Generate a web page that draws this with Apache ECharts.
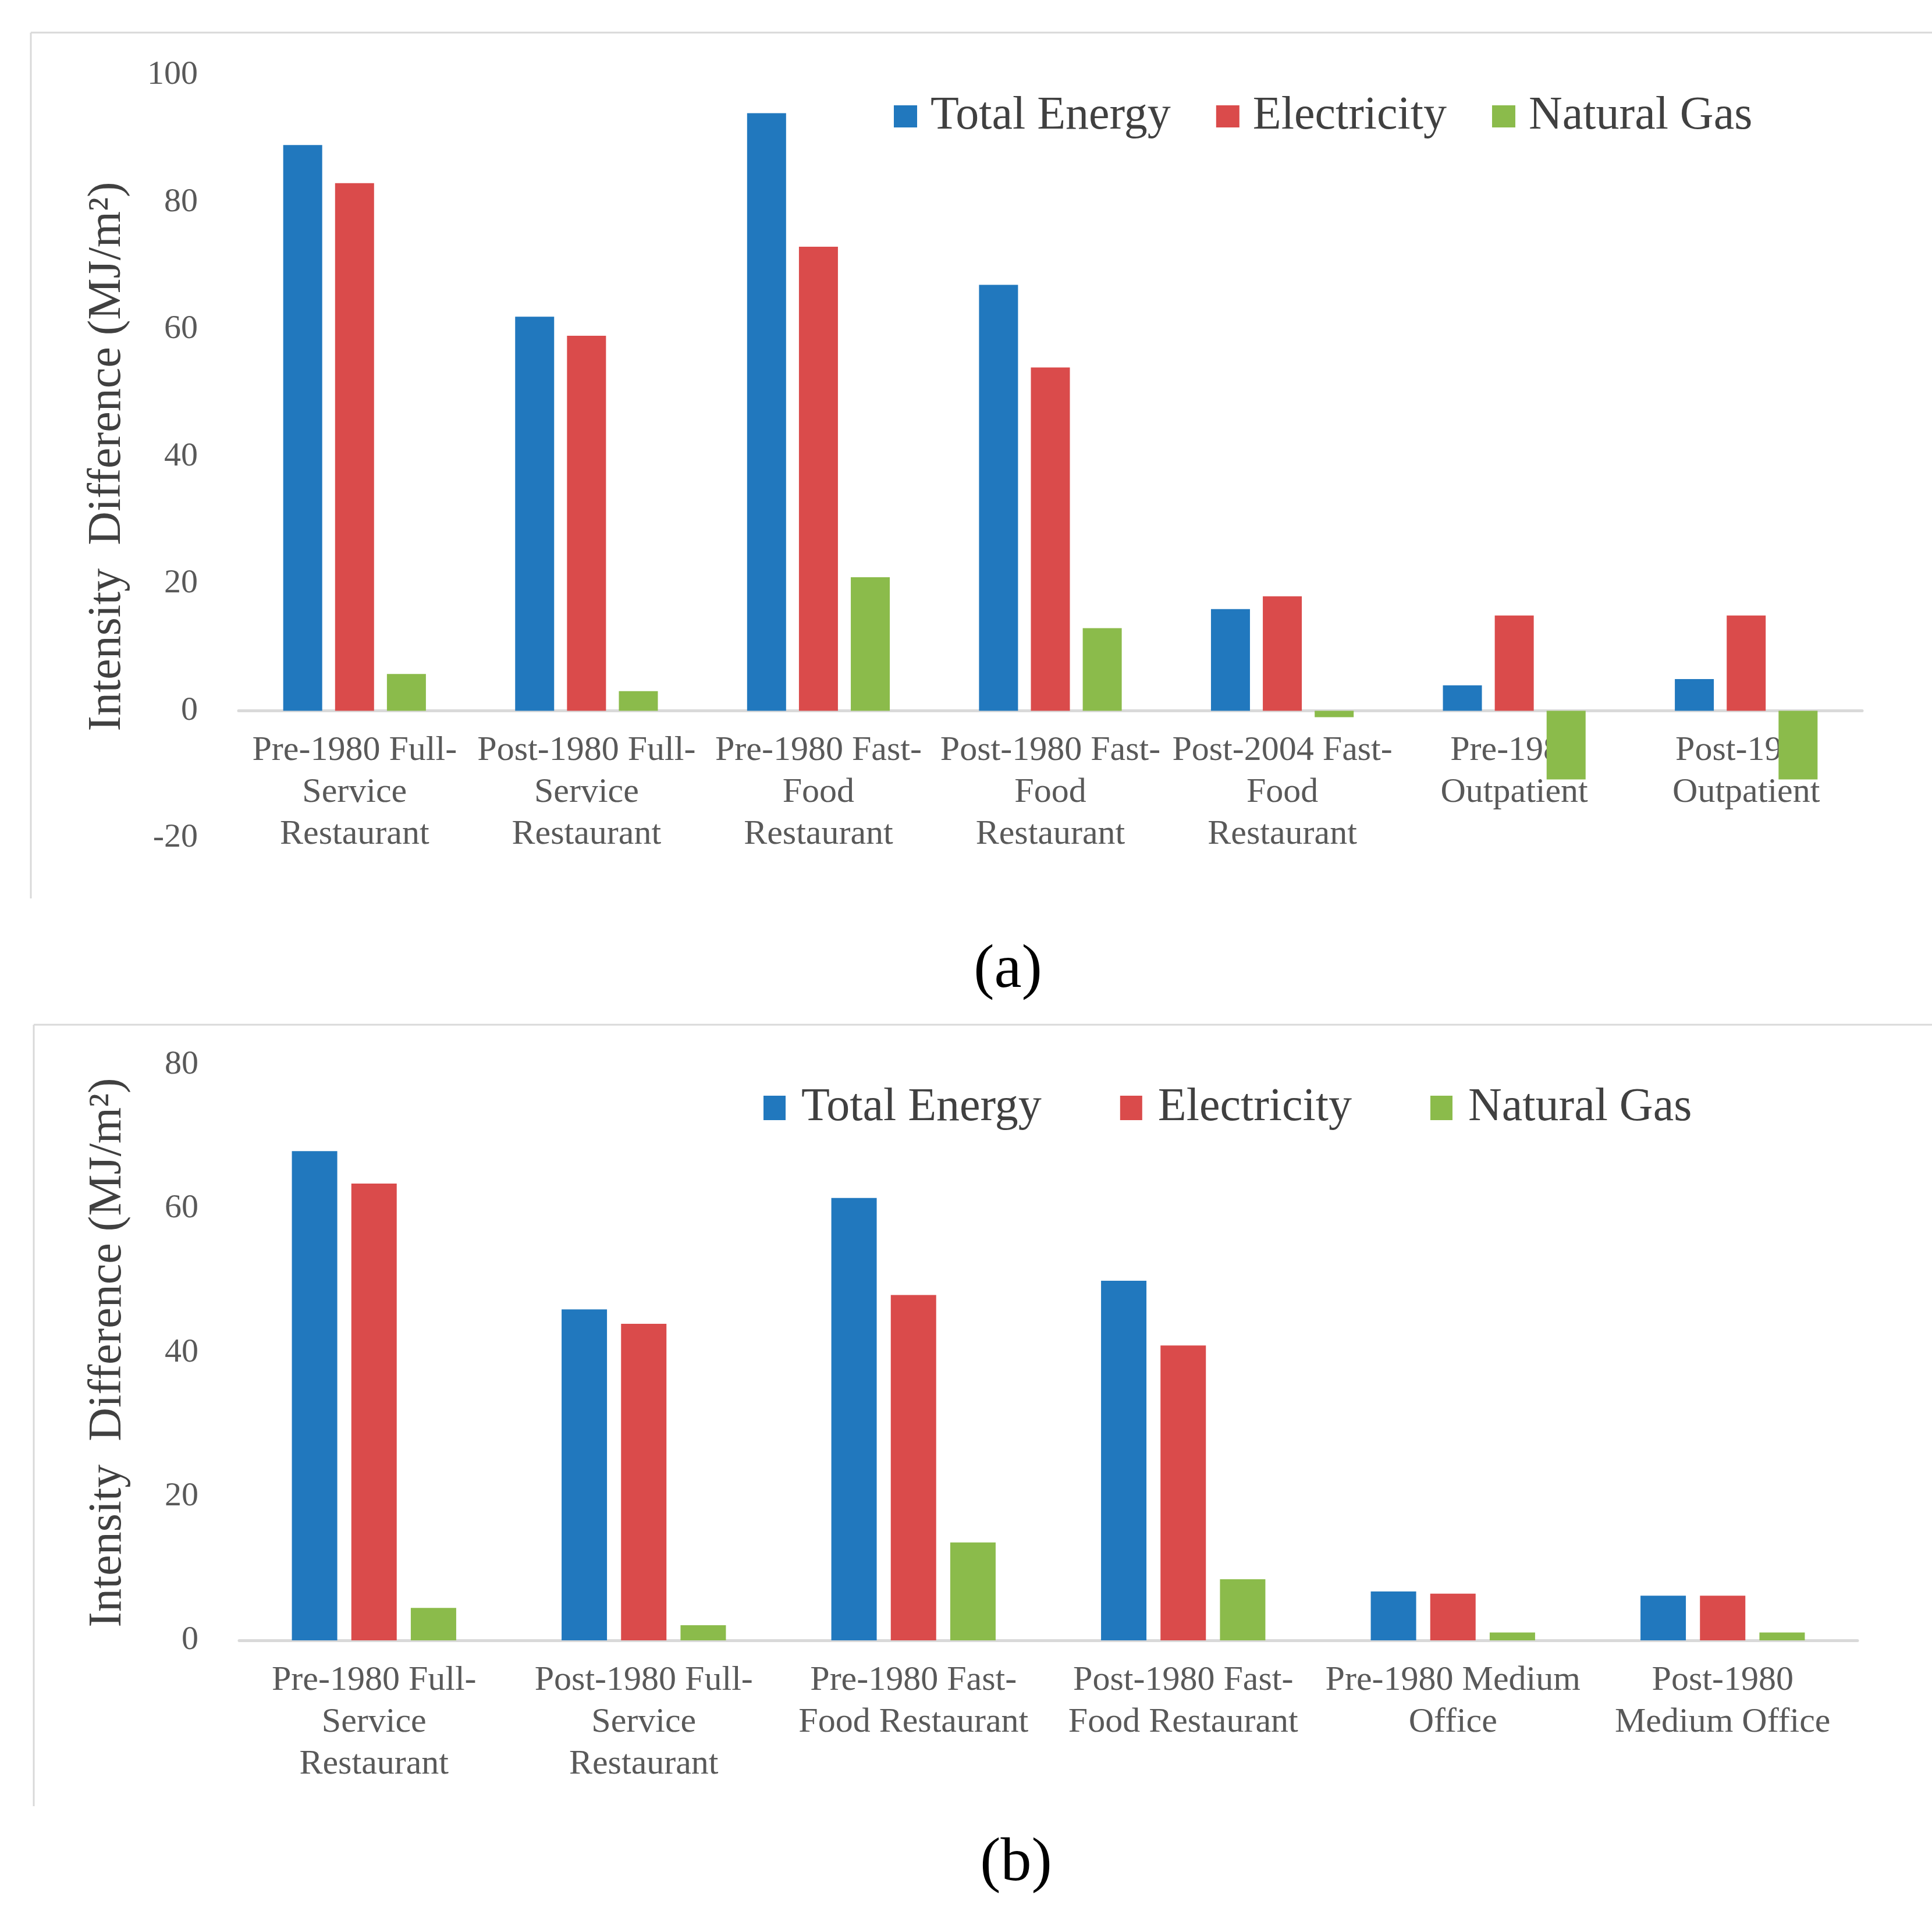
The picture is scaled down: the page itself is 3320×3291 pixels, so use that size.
<!DOCTYPE html>
<html>
<head>
<meta charset="utf-8">
<script src="https://cdn.jsdelivr.net/npm/echarts@6/dist/echarts.min.js"></script>
<style>
html,body{margin:0;padding:0;background:#fff;}
#chart{width:3320px;height:3291px;}
</style>
</head>
<body>
<div id="chart"></div>
<script>
// ---- Data ----
var seriesNames = ['Total Energy', 'Electricity', 'Natural Gas'];

var categoriesA = [
  'Pre-1980 Full-\nService\nRestaurant',
  'Post-1980 Full-\nService\nRestaurant',
  'Pre-1980 Fast-\nFood\nRestaurant',
  'Post-1980 Fast-\nFood\nRestaurant',
  'Post-2004 Fast-\nFood\nRestaurant',
  'Pre-1980\nOutpatient',
  'Post-1980\nOutpatient'
];
var totalA = [89, 62, 94, 67, 16, 4, 5];
var elecA  = [83, 59, 73, 54, 18, 15, 15];
var gasA   = [5.8, 3.1, 21, 13, -1, -10.8, -10.8];
var yTicksA = {min: -20, max: 100, interval: 20};

var categoriesB = [
  'Pre-1980 Full-\nService\nRestaurant',
  'Post-1980 Full-\nService\nRestaurant',
  'Pre-1980 Fast-\nFood Restaurant',
  'Post-1980 Fast-\nFood Restaurant',
  'Pre-1980 Medium\nOffice',
  'Post-1980\nMedium Office'
];
var totalB = [68, 46, 61.5, 50, 6.8, 6.2];
var elecB  = [63.5, 44, 48, 41, 6.5, 6.2];
var gasB   = [4.5, 2.1, 13.6, 8.5, 1.1, 1.1];
var yTicksB = {min: 0, max: 80, interval: 20};

var yTitle = 'Intensity  Difference (MJ/m\u00B2)';
var captions = ['(a)', '(b)'];

// ---- Styling ----
var colors = ['#2178BE', '#DA4B4B', '#8BBB4B'];
var serif = '"Liberation Serif", "Times New Roman", serif';
var tickColor = '#595959';
var frameColor = '#D9D9D9';

var gridA = {left: 410, right: 120, top: 129, height: 1311};
var gridB = {left: 411, right: 128, top: 1830, height: 989};

// offset that places the category axis (line + labels) at the value 0
function zeroOffset(grid, t) {
  return -grid.height * (0 - t.min) / (t.max - t.min);
}

function xAxisFor(gridIndex, cats, offset) {
  return {
    type: 'category', gridIndex: gridIndex, data: cats, offset: offset,
    axisLine: {show: true, onZero: false, lineStyle: {color: frameColor, width: 5}},
    axisTick: {show: false},
    axisLabel: {
      interval: 0, margin: 33, color: tickColor,
      fontFamily: serif, fontSize: 60, lineHeight: 72
    },
    splitLine: {show: false}
  };
}
function yAxisFor(gridIndex, t) {
  return {
    type: 'value', gridIndex: gridIndex, min: t.min, max: t.max, interval: t.interval,
    axisLine: {show: false}, axisTick: {show: false}, splitLine: {show: false},
    axisLabel: {margin: 70, color: tickColor, fontFamily: serif, fontSize: 58},
    name: yTitle, nameLocation: 'middle', nameGap: 185, nameRotate: 90,
    nameTextStyle: {color: '#404040', fontFamily: serif, fontSize: 80}
  };
}
function barSeries(name, idx, data, gridIdx, barWidth, barGap) {
  return {
    name: name, type: 'bar', xAxisIndex: gridIdx, yAxisIndex: gridIdx,
    data: data, barWidth: barWidth, barGap: barGap, z: 3,
    itemStyle: {color: colors[idx]}, animation: false
  };
}

var chart = echarts.init(document.getElementById('chart'), null, {renderer: 'canvas'});
chart.setOption({
  backgroundColor: '#ffffff',
  animation: false,
  grid: [
    {left: gridA.left, right: gridA.right, top: gridA.top, height: gridA.height, containLabel: false},
    {left: gridB.left, right: gridB.right, top: gridB.top, height: gridB.height, containLabel: false}
  ],
  legend: [
    {
      data: seriesNames, left: 1531, top: 155, itemWidth: 40, itemHeight: 38, itemGap: 78,
      icon: 'rect', textStyle: {color: '#404040', fontFamily: serif, fontSize: 80, padding: [0, 0, 0, 18]}
    },
    {
      data: seriesNames, left: 1307, top: 1859, itemWidth: 38, itemHeight: 42, itemGap: 135,
      icon: 'rect', textStyle: {color: '#404040', fontFamily: serif, fontSize: 80, padding: [0, 0, 0, 22]}
    }
  ],
  xAxis: [
    xAxisFor(0, categoriesA, zeroOffset(gridA, yTicksA)),
    xAxisFor(1, categoriesB, zeroOffset(gridB, yTicksB))
  ],
  yAxis: [yAxisFor(0, yTicksA), yAxisFor(1, yTicksB)],
  series: [
    barSeries(seriesNames[0], 0, totalA, 0, 67, '33%'),
    barSeries(seriesNames[1], 1, elecA, 0, 67, '33%'),
    barSeries(seriesNames[2], 2, gasA, 0, 67, '33%'),
    barSeries(seriesNames[0], 0, totalB, 1, 78, '31%'),
    barSeries(seriesNames[1], 1, elecB, 1, 78, '31%'),
    barSeries(seriesNames[2], 2, gasB, 1, 78, '31%')
  ],
  graphic: [
    {type: 'line', shape: {x1: 53, y1: 56, x2: 3320, y2: 56}, style: {stroke: frameColor, lineWidth: 3}, silent: true},
    {type: 'line', shape: {x1: 53, y1: 56, x2: 53, y2: 1544}, style: {stroke: frameColor, lineWidth: 3}, silent: true},
    {type: 'line', shape: {x1: 58, y1: 1761, x2: 3320, y2: 1761}, style: {stroke: frameColor, lineWidth: 3}, silent: true},
    {type: 'line', shape: {x1: 58, y1: 1761, x2: 58, y2: 3104}, style: {stroke: frameColor, lineWidth: 3}, silent: true},
    {type: 'text', x: 1732, y: 1668, style: {text: captions[0], fill: '#000', font: '106px ' + serif, textAlign: 'center', textVerticalAlign: 'middle'}},
    {type: 'text', x: 1746, y: 3203, style: {text: captions[1], fill: '#000', font: '106px ' + serif, textAlign: 'center', textVerticalAlign: 'middle'}}
  ]
});
</script>
</body>
</html>
